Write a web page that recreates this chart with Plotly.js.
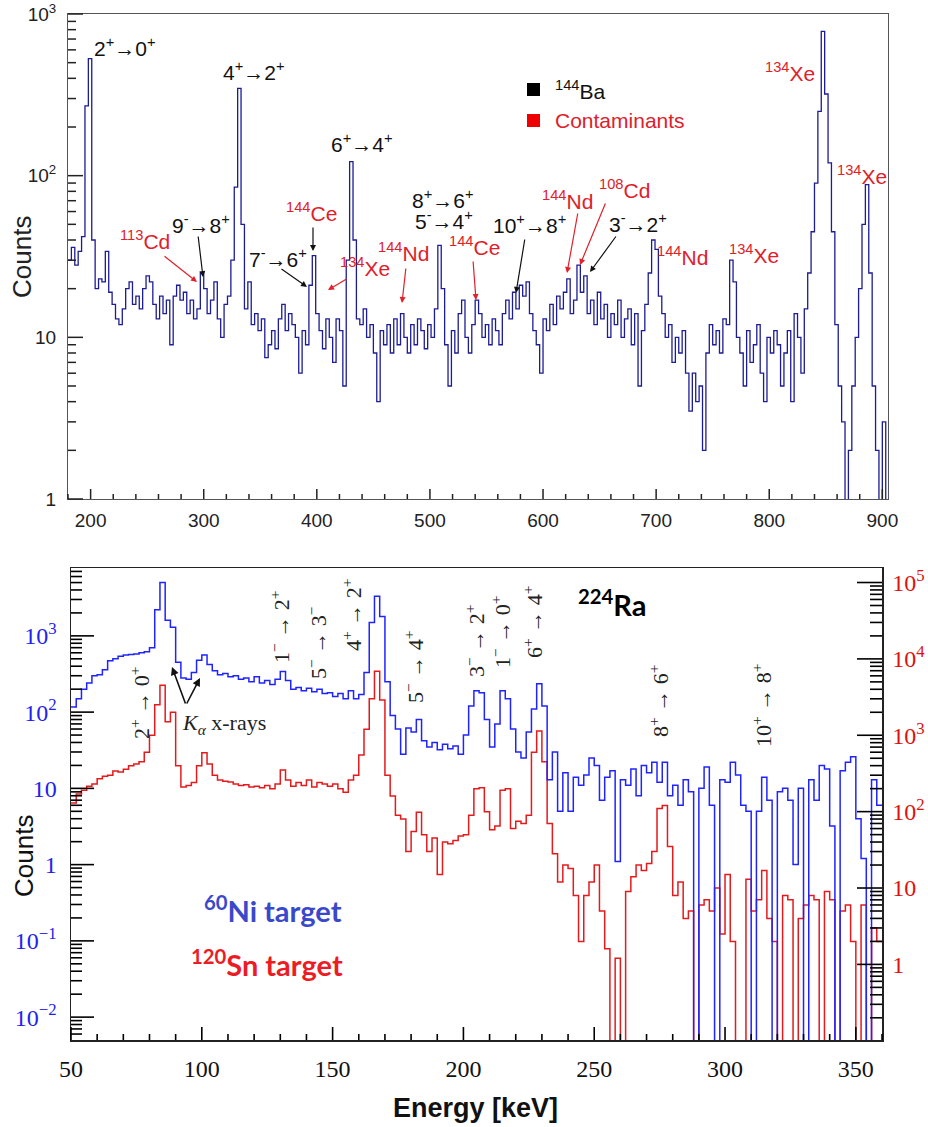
<!DOCTYPE html>
<html><head><meta charset="utf-8">
<script src="https://cdn.plot.ly/plotly-3.0.1.min.js"></script>
<style>html,body{margin:0;padding:0;background:#fff}#chart{width:928px;height:1127px}</style>
</head><body><div id="chart"></div>
<script>
// ---------------- DATA ----------------
// Top panel: 144Ba spectrum, 3 keV bins starting at 180 keV
const ba144BinStart = 180;
const ba144BinWidth = 3;
const ba144Counts = [
 30,36,28,34,42,270,530,40,20,23,
 22,34,19,16,13,12,15,20,22,16,
 18,15,20,24,22,16,13,18,14,17,
 9,18,21,17,19,14,17,13,15,25,
 20,14,17,22,13,10,16,18,30,85,
 347,50,15,22,12,14,11,13,7.5,9,
 11,8.5,13,16,11,14,12,10,6,11,
 9,21,32,14,11,8.5,13,10,7,13,
 11,5,30,122,40,13,12,15,10,12,
 8,4,11,9,12,8,13,9,14,10,
 8,12,9,13,11,8.5,12,10,15,37,
 20,9,5,11,8,14,17,10,8,12,
 17,14,10,12,9,13,11,9,14,17,
 13,19,15,21,18,22,14,11,9,6,
 13,11,16,12,18,15,19,23,14,17,
 28,19,24,14,17,12,19,13,16,10,
 14,12,17,10,13,15,9,14,5,11,
 16,25,40,35,18,14,10,12,7,10,
 8,11,6,3.5,6,4,5,2,8,12,
 9,11,8,13,12,30,22,10,8,5,
 11,7,9,12,6,4,10,8,11,9,
 5,8,11,4,14,10,6,15,25,45,
 90,250,780,320,120,45,12,5,3,0,
 2,5,10,20,50,88,25,5,2,0,
 3,0
];
// Bottom panel: 224Ra spectra, 2 keV bins starting at 50 keV
const ra224BinStart = 50;
const ra224BinWidth = 2;
const ni60Counts = [
 117,150,200,240,300,310,360,470,500,540,
 560,570,580,600,620,700,2200,5000,1600,1300,
 450,280,270,330,480,560,420,350,310,320,
 290,300,270,280,250,290,240,260,230,270,
 340,260,200,210,190,205,185,200,175,180,
 160,175,150,190,150,170,330,1500,3300,1800,
 250,90,60,28,62,55,80,42,35,40,
 32,38,33,36,28,50,120,190,180,80,
 35,70,190,150,60,30,25,55,110,235,
 120,13,30,5,16,5,14,11,15,25,
 20,7,14,17,1.1,13,11,18,8,20,
 16,22,12,22,8,11,6,13,9,0,
 10,19,6,0,13,12,22,15,6,5,
 0,5,14,7,0,9,10,7,1,10,
 0,13,7,20,18,3.2,0,17,22,26,
 4,1.2,0,13,6
];
const sn120Counts = [
 130,170,190,215,230,270,290,300,340,330,
 360,400,420,450,600,1000,2500,4500,1500,2000,
 400,210,220,240,400,590,420,300,260,250,
 245,230,220,225,210,215,205,220,200,230,
 350,260,215,240,220,260,210,240,230,215,
 230,200,180,260,300,550,1200,3000,6900,2900,
 300,160,90,80,30,55,98,50,30,45,
 15,40,38,42,48,50,90,200,205,100,
 58,65,190,200,60,75,70,90,600,1140,
 450,70,28,12,20,18,8,2,8,12,
 20,5,1.6,0,1.2,0,9,14,20,17,
 21,30,110,120,35,8,12,4,5,0,
 6,7,5,10,2.5,15,2,0,0,13,
 5,7,17,4,2,0,8,7,0,4,
 6,8,7,0,9,7,0,5,6,2,
 0,6,0,3,2
];
const topXTicks = [200,300,400,500,600,700,800,900];
const topYTicks = [1,10,100,1000];
const topYTickText = ['1','10','10<sup>2</sup>','10<sup>3</sup>'];
const botXTicks = [50,100,150,200,250,300,350];
const niYTicks = [0.01,0.1,1,10,100,1000];
const niYTickText = ['10<sup>\u22122</sup>','10<sup>\u22121</sup>','1','10','10<sup>2</sup>','10<sup>3</sup>'];
const snYTicks = [1,10,100,1000,10000,100000];
const snYTickText = ['1','10','10<sup>2</sup>','10<sup>3</sup>','10<sup>4</sup>','10<sup>5</sup>'];

// ---------------- GEOMETRY ----------------
const W = 928, H = 1127;
const px = v => v / W, py = v => 1 - v / H;
const TOP = {xd: [px(68), px(888)], yd: [py(499), py(14)], xr: [180, 905], yr: [0, 3]};
const BOT = {xd: [px(71), px(882)], yd: [py(1040), py(568)], xr: [50, 360], ySn: [-0.99, 5.19], yNi: [-2.30, 3.89]};

// ---------------- HELPERS ----------------
function steps(start, width, counts, floor) {
  const x = [], y = [];
  counts.forEach((c, i) => { x.push(start + i * width); y.push(c > 0 ? c : floor); });
  const last = counts[counts.length - 1];
  x.push(start + counts.length * width); y.push(last > 0 ? last : floor);
  return {x, y};
}
function linMinor(from, to, step, major) {
  const v = [];
  for (let t = from; t <= to + 1e-9; t += step) if (t % major !== 0) v.push(t);
  return v;
}
function logMinor(e0, e1) {
  const v = [];
  for (let e = e0; e <= e1; e++) for (let d = 2; d <= 9; d++) v.push(d * Math.pow(10, e));
  return v;
}
const shapes = [];
function xTicks(xd, xr, yPaper, vals, len, color, width) {
  vals.filter(v => v >= xr[0] && v <= xr[1]).forEach(v => {
    const xp = xd[0] + (v - xr[0]) / (xr[1] - xr[0]) * (xd[1] - xd[0]);
    shapes.push({type: 'line', xref: 'paper', yref: 'paper', x0: xp, x1: xp, y0: yPaper, y1: yPaper + len / H, line: {color, width}, layer: 'above'});
  });
}
function yTicks(xPaper, dir, yd, yr, vals, len, color, width) {
  vals.forEach(v => {
    const l = Math.log10(v);
    if (l < yr[0] - 1e-9 || l > yr[1] + 1e-9) return;
    const yp = yd[0] + (l - yr[0]) / (yr[1] - yr[0]) * (yd[1] - yd[0]);
    shapes.push({type: 'line', xref: 'paper', yref: 'paper', x0: xPaper, x1: xPaper + dir * len / W, y0: yp, y1: yp, line: {color, width}, layer: 'above'});
  });
}
xTicks(TOP.xd, TOP.xr, TOP.yd[0], topXTicks, 10, '#222', 1.5);
xTicks(TOP.xd, TOP.xr, TOP.yd[0], linMinor(180, 900, 20, 100), 5, '#222', 1.5);
yTicks(TOP.xd[0], 1, TOP.yd, TOP.yr, topYTicks, 15, '#222', 1.5);
yTicks(TOP.xd[0], 1, TOP.yd, TOP.yr, logMinor(0, 2), 8, '#222', 1.5);
xTicks(BOT.xd, BOT.xr, BOT.yd[0], botXTicks, 13, '#000', 1.6);
xTicks(BOT.xd, BOT.xr, BOT.yd[0], linMinor(50, 360, 10, 50), 6, '#000', 1.6);
yTicks(BOT.xd[0], 1, BOT.yd, BOT.yNi, niYTicks, 23, '#000', 1.6);
yTicks(BOT.xd[0], 1, BOT.yd, BOT.yNi, logMinor(-3, 3), 11, '#000', 1.6);
yTicks(BOT.xd[1], -1, BOT.yd, BOT.ySn, snYTicks, 25, '#000', 1.6);
yTicks(BOT.xd[1], -1, BOT.yd, BOT.ySn, logMinor(-1, 5), 12, '#000', 1.6);
shapes.push({type: 'rect', xref: 'paper', yref: 'paper', x0: px(527), x1: px(540), y0: py(96), y1: py(83), fillcolor: '#000', line: {width: 0}});
shapes.push({type: 'rect', xref: 'paper', yref: 'paper', x0: px(527), x1: px(540), y0: py(127), y1: py(114), fillcolor: '#ee0000', line: {width: 0}});

const baStep = steps(ba144BinStart, ba144BinWidth, ba144Counts, 0.05);
const niStep = steps(ra224BinStart, ra224BinWidth, ni60Counts, 1e-4);
const snStep = steps(ra224BinStart, ra224BinWidth, sn120Counts, 1e-3);

const traces = [
  {x: baStep.x, y: baStep.y, type: 'scatter', mode: 'lines', line: {shape: 'hv', color: '#1c1c94', width: 1.3}, xaxis: 'x', yaxis: 'y', hoverinfo: 'skip'},
  {x: snStep.x, y: snStep.y, type: 'scatter', mode: 'lines', line: {shape: 'hv', color: '#e41a1c', width: 1.5}, xaxis: 'x2', yaxis: 'y2', hoverinfo: 'skip'},
  {x: niStep.x, y: niStep.y, type: 'scatter', mode: 'lines', line: {shape: 'hv', color: '#1f24ff', width: 1.5}, xaxis: 'x2', yaxis: 'y3', hoverinfo: 'skip'}
];

const sansTick = {family: 'Liberation Sans, Arial, sans-serif', size: 19, color: '#222'};
const serif = 'Liberation Serif, Times New Roman, serif';

const layout = {
  width: W, height: H, margin: {l: 0, r: 0, t: 0, b: 0}, showlegend: false,
  xaxis: {domain: TOP.xd, range: TOP.xr, anchor: 'y', showline: true, mirror: true,
    linecolor: '#555', ticks: '', tickmode: 'array', tickvals: topXTicks, tickfont: sansTick, ticklabelstandoff: 4,
    showgrid: false, zeroline: false},
  yaxis: {domain: TOP.yd, type: 'log', range: TOP.yr, anchor: 'x', showline: true, mirror: true,
    linecolor: '#555', ticks: '', tickmode: 'array', tickvals: topYTicks, ticktext: topYTickText, tickfont: sansTick, ticklabelstandoff: 7,
    showgrid: false, zeroline: false},
  xaxis2: {domain: BOT.xd, range: BOT.xr, anchor: 'y2', showline: true, mirror: true,
    linecolor: '#222', linewidth: 1.5, ticks: '', tickmode: 'array', tickvals: botXTicks,
    tickfont: {family: serif, size: 24, color: '#111'}, ticklabelstandoff: 7,
    showgrid: false, zeroline: false},
  yaxis2: {domain: BOT.yd, type: 'log', range: BOT.ySn, anchor: 'x2', side: 'right',
    showline: true, linecolor: '#222', linewidth: 1.5, ticks: '', tickmode: 'array', tickvals: snYTicks, ticktext: snYTickText,
    tickfont: {family: serif, size: 24, color: '#e01010'}, ticklabelstandoff: 4,
    showgrid: false, zeroline: false},
  yaxis3: {type: 'log', range: BOT.yNi, anchor: 'x2', overlaying: 'y2', side: 'left',
    showline: true, linecolor: '#222', linewidth: 1.5, ticks: '', tickmode: 'array', tickvals: niYTicks, ticktext: niYTickText,
    tickfont: {family: serif, size: 24, color: '#2222ee'}, ticklabelstandoff: 8,
    showgrid: false, zeroline: false},
  shapes,
  annotations: []
};

const RED = '#e0202a', BLK = '#111';
const topFont = (c) => ({family: 'Liberation Sans, Arial, sans-serif', size: 21, color: c});
function label(text, left, cy, color) {
  layout.annotations.push({text, x: px(left), y: py(cy), xref: 'paper', yref: 'paper', xanchor: 'left', yanchor: 'middle', showarrow: false, font: topFont(color)});
}
function arrow(tx, ty, hx, hy, color, w) {
  layout.annotations.push({text: '', x: px(hx), y: py(hy), xref: 'paper', yref: 'paper', ax: tx - hx, ay: ty - hy,
    showarrow: true, arrowhead: 2, arrowsize: 1, arrowwidth: w || 1.2, arrowcolor: color});
}
label('2<sup>+</sup>\u21920<sup>+</sup>', 92, 47, BLK);
label('4<sup>+</sup>\u21922<sup>+</sup>', 221, 71, BLK);
label('6<sup>+</sup>\u21924<sup>+</sup>', 329, 143, BLK);
label('9<sup>-</sup>\u21928<sup>+</sup>', 170, 224, BLK);
label('7<sup>-</sup>\u21926<sup>+</sup>', 247, 258, BLK);
label('8<sup>+</sup>\u21926<sup>+</sup>', 410, 199, BLK);
label('5<sup>-</sup>\u21924<sup>+</sup>', 413, 220, BLK);
label('10<sup>+</sup>\u21928<sup>+</sup>', 491, 224, BLK);
label('3<sup>-</sup>\u21922<sup>+</sup>', 607, 223, BLK);
label('<sup>113</sup>Cd', 118, 240, RED);
label('<sup>144</sup>Ce', 284, 212, RED);
label('<sup>134</sup>Xe', 338, 267, RED);
label('<sup>144</sup>Nd', 376, 252, RED);
label('<sup>144</sup>Ce', 447, 246, RED);
label('<sup>144</sup>Nd', 540, 200, RED);
label('<sup>108</sup>Cd', 597, 189, RED);
label('<sup>144</sup>Nd', 655, 256, RED);
label('<sup>134</sup>Xe', 727, 254, RED);
label('<sup>134</sup>Xe', 763, 72, RED);
label('<sup>134</sup>Xe', 835, 175, RED);
label('<sup>144</sup>Ba', 553, 90, BLK);
label('Contaminants', 553, 121, RED);
arrow(163, 255, 197, 282, RED);
arrow(198, 235, 203, 277, BLK);
arrow(313, 226, 313, 251, BLK);
arrow(280, 268, 307, 287, BLK);
arrow(348, 278, 328, 290, RED);
arrow(406, 267, 402, 303, RED);
arrow(473, 260, 476, 300, RED);
arrow(525, 238, 516, 293, BLK);
arrow(578, 212, 567, 273, RED);
arrow(606, 202, 580, 265, RED);
arrow(617, 235, 590, 272, BLK);

function vlabel(text, cx, cy) {
  layout.annotations.push({text, x: px(cx), y: py(cy), xref: 'paper', yref: 'paper', xanchor: 'center', yanchor: 'middle', textangle: -90, showarrow: false,
    font: {family: serif, size: 22, color: '#222'}});
}
vlabel('2<sup>+</sup> \u2192 0<sup>+</sup>', 140, 703);
vlabel('1<sup>\u2212</sup> \u2192 2<sup>+</sup>', 280, 627);
vlabel('5<sup>\u2212</sup> \u2192 3<sup>\u2212</sup>', 317, 643);
vlabel('4<sup>+</sup> \u2192 2<sup>+</sup>', 352, 615);
vlabel('5<sup>\u2212</sup> \u2192 4<sup>+</sup>', 414, 667);
vlabel('3<sup>\u2212</sup> \u2192 2<sup>+</sup>', 475, 641);
vlabel('1<sup>\u2212</sup> \u2192 0<sup>+</sup>', 501, 632);
vlabel('6<sup>+</sup> \u2192 4<sup>+</sup>', 533, 622);
vlabel('8<sup>+</sup> \u2192 6<sup>+</sup>', 659, 701);
vlabel('10<sup>+</sup> \u2192 8<sup>+</sup>', 762, 706);
layout.annotations.push({text: '<i>K</i><sub><i>\u03b1</i></sub> x-rays', x: px(180), y: py(724), xref: 'paper', yref: 'paper', xanchor: 'left', yanchor: 'middle', showarrow: false,
  font: {family: serif, size: 22, color: '#222'}});
arrow(186, 705, 172, 667, '#111', 1.6);
arrow(186, 705, 200, 678, '#111', 1.6);
layout.annotations.push({text: '<b><sup>224</sup>Ra</b>', x: px(576), y: py(603), xref: 'paper', yref: 'paper', xanchor: 'left', yanchor: 'middle', showarrow: false,
  font: {family: 'Lato, Open Sans, sans-serif', size: 29, color: '#000'}});
layout.annotations.push({text: '<b><sup>60</sup>Ni target</b>', x: px(202), y: py(909), xref: 'paper', yref: 'paper', xanchor: 'left', yanchor: 'middle', showarrow: false,
  font: {family: 'Lato, Open Sans, sans-serif', size: 29, color: '#3a48cc'}});
layout.annotations.push({text: '<b><sup>120</sup>Sn target</b>', x: px(189), y: py(963), xref: 'paper', yref: 'paper', xanchor: 'left', yanchor: 'middle', showarrow: false,
  font: {family: 'Lato, Open Sans, sans-serif', size: 29, color: '#ec1c24'}});
layout.annotations.push({text: 'Counts', x: px(22), y: py(257), xref: 'paper', yref: 'paper', xanchor: 'center', yanchor: 'middle', textangle: -90, showarrow: false,
  font: {family: 'Liberation Sans, Arial, sans-serif', size: 26, color: '#222'}});
layout.annotations.push({text: 'Counts', x: px(24), y: py(856), xref: 'paper', yref: 'paper', xanchor: 'center', yanchor: 'middle', textangle: -90, showarrow: false,
  font: {family: 'Liberation Sans, Arial, sans-serif', size: 26, color: '#111'}});
layout.annotations.push({text: '<b>Energy [keV]</b>', x: px(475), y: py(1108), xref: 'paper', yref: 'paper', xanchor: 'center', yanchor: 'middle', showarrow: false,
  font: {family: 'Liberation Sans, Arial, sans-serif', size: 27, color: '#111'}});

Plotly.newPlot('chart', traces, layout, {staticPlot: true, displayModeBar: false});
</script>
</body></html>
